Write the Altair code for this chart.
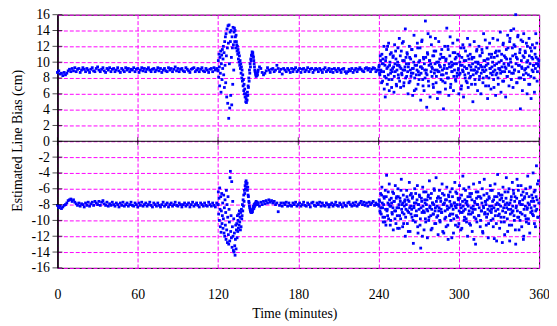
import altair as alt
import pandas as pd

# ---------------- data ----------------
# Upper series (~ +9 cm)
up_stable1_start, up_stable1_step = 0.0, 1.0
up_stable1 = [8.7, 8.9, 8.5, 8.6, 8.3, 8.7, 8.4, 8.6, 8.9, 9.1,
              8.8, 9.2, 8.9, 9.3, 8.8, 9.1, 9.2, 8.7, 9.0, 9.3,
              9.1, 8.8, 9.2, 9.0, 8.7, 9.1, 9.3, 8.9, 8.8, 9.2,
              9.4, 9.0, 8.8, 9.1, 9.3, 8.9, 8.7, 9.2, 9.0, 9.3,
              8.8, 9.1, 9.2, 8.8, 9.0, 9.3, 8.9, 8.7, 9.2, 9.0,
              8.8, 9.3, 9.0, 9.2, 8.8, 9.1, 9.0, 9.3, 8.8, 9.1,
              9.2, 8.7, 9.0, 9.3, 8.9, 9.2, 8.8, 9.1, 9.3, 9.0,
              8.8, 9.1, 9.2, 8.8, 9.0, 9.3, 8.9, 9.2, 8.7, 9.0,
              9.2, 8.9, 8.8, 9.3, 9.0, 9.2, 8.8, 9.1, 9.4, 8.9,
              9.2, 8.8, 9.1, 9.2, 8.9, 8.8, 9.3, 9.1, 8.9, 8.7,
              9.1, 9.2, 9.3, 8.8, 9.0, 9.2, 8.8, 9.1, 9.3, 8.9,
              8.8, 9.2, 9.0, 8.7, 9.1, 9.2, 8.8, 9.3, 9.0, 9.2,
              8.9]

up_trans_start, up_trans_step = 120.0, 0.25
up_trans = [9.0, 10.2, 8.1, 11.0, 9.4, 7.0, 10.6, 8.6,
            11.4, 6.2, 9.8, 10.9, 7.8, 11.6, 9.2, 10.4,
            12.0, 8.4, 11.2, 6.8, 12.6, 9.6, 13.2, 7.4,
            13.6, 10.8, 5.6, 14.2, 11.8, 4.8, 14.6, 12.4,
            2.9, 14.7, 9.8, 4.2, 13.8, 12.6, 5.8, 14.0,
            10.6, 4.6, 13.2, 11.8, 7.2, 14.4, 12.2, 9.0,
            13.8, 14.3, 12.6, 14.0, 13.2, 11.8, 13.4, 12.6,
            12.2, 11.4, 12.0, 11.0, 11.6, 10.4, 11.2, 10.0,
            10.8, 9.6, 10.2, 9.2, 9.8, 8.6, 9.4, 8.0,
            9.0, 7.6, 8.4, 7.0, 7.8, 6.4, 7.2, 6.0,
            6.6, 5.6, 6.0, 5.0, 5.4, 4.9, 5.8, 5.2,
            6.2, 5.8, 7.0, 6.8, 8.0, 7.6, 9.0, 8.6,
            9.8, 9.4, 10.4, 10.2, 10.9, 10.8, 11.3, 11.1,
            11.2, 10.8, 10.6, 10.2, 9.8, 9.4, 9.0, 8.8,
            8.6, 8.4, 8.2, 8.5, 8.3, 8.6, 8.4, 8.8]

up_stable2_start, up_stable2_step = 150.0, 1.0
up_stable2 = [9.0, 9.4, 9.2, 8.7, 8.4, 8.6, 8.9, 9.3, 9.0, 8.7,
              9.1, 9.2, 8.8, 9.0, 9.6, 9.2, 8.8, 9.1, 8.5, 9.2,
              9.0, 8.8, 9.2, 9.0, 8.7, 9.2, 8.8, 9.1, 9.3, 8.8,
              9.0, 9.2, 8.7, 9.1, 9.2, 8.8, 9.0, 9.3, 8.8, 9.1,
              9.2, 8.7, 9.0, 9.2, 9.1, 8.8, 9.2, 9.0, 8.7, 9.1,
              9.3, 8.8, 9.0, 9.2, 8.8, 9.1, 8.7, 9.2, 9.0, 8.8,
              9.2, 9.0, 8.7, 9.1, 9.2, 8.8, 8.6, 8.8, 9.1, 8.9,
              9.2, 8.7, 9.0, 9.2, 8.8, 9.1, 9.3, 9.1, 8.9, 8.8,
              9.2, 9.3, 9.0, 9.2, 8.8, 9.1, 9.3, 9.2, 8.8, 9.0]

up_noisy_start, up_noisy_step = 240.0, 0.5
up_noisy = [9.0, 9.6, 8.4, 10.2, 8.8, 11.0, 7.6, 9.8, 12.0, 8.2,
            5.6, 10.6, 11.6, 7.2, 9.4, 12.4, 6.4, 10.0, 8.6, 11.2,
            7.8, 9.2, 10.8, 6.2, 12.2, 8.8, 10.4, 7.0, 9.6, 11.8,
            8.0, 13.0, 9.4, 6.8, 11.4, 8.4, 10.2, 12.6, 7.4, 9.0,
            14.2, 10.6, 8.2, 11.0, 6.0, 9.8, 12.0, 7.6, 10.4, 8.6,
            11.6, 5.8, 9.2, 13.4, 8.0, 10.8, 6.6, 9.6, 12.4, 7.2,
            10.0, 8.4, 11.8, 5.2, 9.4, 12.8, 7.8, 10.6, 6.4, 9.0,
            15.2, 8.6, 4.3, 11.2, 13.6, 7.0, 10.2, 5.6, 9.8, 12.2,
            8.2, 10.8, 6.8, 11.4, 9.0, 13.0, 7.4, 10.0, 5.4, 8.8,
            12.6, 9.6, 6.2, 11.0, 8.4, 10.6, 7.6, 4.1, 9.2, 12.0,
            6.6, 10.4, 14.3, 8.0, 11.6, 5.8, 9.4, 13.2, 7.2, 10.0,
            8.8, 12.4, 6.4, 9.8, 11.2, 7.8, 10.6, 8.2, 12.8, 9.0,
            6.0, 10.8, 8.6, 11.8, 7.0, 9.6, 12.2, 5.6, 10.2, 8.4,
            11.4, 7.6, 9.2, 13.0, 6.8, 10.4, 8.0, 11.0, 9.4, 7.2,
            10.6, 5.0, 9.0, 12.6, 7.8, 10.0, 8.6, 11.6, 6.4, 9.8,
            12.0, 8.2, 10.8, 6.0, 9.4, 11.2, 7.4, 13.6, 8.8, 10.2,
            7.0, 9.6, 11.8, 5.4, 10.4, 8.0, 12.4, 9.2, 6.6, 11.0,
            8.4, 13.0, 7.8, 10.6, 9.0, 5.8, 11.4, 8.6, 12.8, 7.2,
            10.0, 9.2, 13.8, 6.2, 11.0, 8.8, 12.2, 7.6, 10.8, 9.4,
            5.6, 11.6, 8.2, 13.4, 9.8, 7.0, 12.6, 10.4, 14.0, 8.6,
            11.8, 6.8, 14.2, 9.0, 12.0, 16.0, 10.6, 7.4, 13.2, 9.6,
            8.0, 11.2, 4.1, 12.8, 9.4, 6.4, 10.8, 13.6, 7.8, 11.4,
            9.2, 12.4, 6.0, 10.2, 8.4, 13.0, 7.2, 11.8, 5.4, 10.6,
            12.2, 8.8, 9.6, 6.2, 11.0, 13.6, 9.8, 7.6, 10.4, 9.5]

up_noisy_b_start, up_noisy_b_step = 240.25, 0.5
up_noisy_b = [9.4, 8.6, 10.8, 9.0, 7.4, 9.8, 10.4, 8.8, 6.6, 9.6,
              10.2, 8.0, 9.2, 12.0, 8.4, 7.8, 9.6, 11.0, 9.0, 6.8,
              8.8, 10.6, 9.4, 8.2, 9.8, 11.4, 7.2, 9.0, 10.0, 8.4,
              9.6, 7.6, 10.8, 9.2, 8.6, 12.4, 9.0, 7.0, 10.2, 9.4,
              8.0, 9.8, 11.2, 8.8, 9.4, 7.4, 10.6, 9.0, 8.2, 11.6,
              9.2, 8.6, 10.0, 6.4, 9.6, 10.8, 8.4, 9.0, 11.8, 8.8,
              7.8, 10.2, 9.4, 8.6, 12.6, 9.2, 7.0, 10.4, 9.8, 8.0,
              10.6, 9.0, 8.4, 11.0, 7.6, 9.6, 10.2, 13.2, 8.8, 9.4,
              9.2, 7.2, 10.8, 8.6, 9.8, 11.4, 8.2, 9.0, 6.2, 10.0,
              8.8, 10.4, 9.4, 7.8, 11.6, 9.0, 8.4, 10.6, 9.6, 7.4,
              10.2, 8.6, 9.2, 12.0, 8.0, 9.8, 10.8, 6.8, 9.4, 8.8,
              9.6, 11.2, 8.2, 9.0, 10.4, 7.6, 9.8, 8.6, 11.0, 9.2,
              8.4, 10.0, 9.6, 6.6, 10.6, 9.0, 8.8, 11.8, 9.4, 8.0,
              10.2, 9.2, 7.4, 10.8, 8.6, 9.6, 12.2, 8.2, 9.0, 10.4,
              9.8, 8.4, 10.6, 9.0, 7.2, 9.4, 11.4, 8.8, 10.0, 9.2,
              7.8, 10.8, 9.6, 8.6, 11.6, 9.0, 8.0, 10.2, 9.4, 12.8,
              9.0, 8.2, 10.4, 9.8, 7.0, 11.0, 9.2, 8.6, 10.6, 9.4,
              10.0, 8.8, 6.8, 9.6, 11.2, 8.4, 9.8, 10.8, 8.0, 9.2,
              11.4, 9.0, 8.6, 10.2, 9.4, 7.6, 12.4, 9.8, 8.8, 10.6,
              9.2, 10.4, 8.2, 11.8, 9.6, 8.8, 13.0, 10.0, 7.8, 9.4,
              10.8, 8.6, 12.2, 9.0, 11.0, 9.8, 7.4, 10.4, 13.4, 8.8,
              9.6, 11.6, 8.0, 10.2, 9.2, 12.6, 8.4, 10.6, 9.0, 11.2,
              8.6, 10.0, 12.0, 9.4, 7.2, 10.8, 9.8, 8.2, 11.4, 9.0,
              10.4, 9.6, 8.0, 11.8, 9.2, 10.6, 12.4, 8.8, 9.8, 10.2]

# Lower series (~ -8 cm)
lo_stable1_start, lo_stable1_step = 0.0, 1.0
lo_stable1 = [-8.1, -8.4, -8.2, -8.5, -8.3, -8.1, -8.0, -7.8, -7.5, -7.4,
              -7.3, -7.6, -7.4, -7.7, -7.9, -8.1, -7.8, -8.2, -7.9, -8.0,
              -8.3, -7.8, -8.1, -7.7, -8.2, -7.9, -7.7, -8.1, -7.6, -7.8,
              -8.0, -7.6, -8.1, -7.7, -7.5, -7.9, -8.1, -7.7, -8.2, -7.9,
              -8.1, -7.7, -8.0, -8.2, -7.8, -8.0, -8.3, -7.8, -8.1, -7.7,
              -8.2, -8.0, -7.8, -8.2, -8.0, -7.7, -8.1, -8.2, -7.8, -8.0,
              -8.3, -7.8, -8.1, -7.7, -8.2, -8.0, -7.8, -8.2, -8.0, -7.7,
              -8.1, -8.3, -7.8, -8.0, -8.2, -7.8, -8.1, -8.3, -8.0, -7.7,
              -8.2, -8.0, -7.8, -8.3, -8.0, -7.8, -8.2, -8.0, -7.7, -8.1,
              -8.2, -7.8, -8.0, -8.3, -8.0, -7.8, -8.2, -8.0, -7.8, -8.3,
              -8.0, -7.7, -8.2, -8.0, -7.8, -8.1, -8.3, -7.8, -8.0, -8.2,
              -7.8, -8.1, -8.2, -7.7, -8.0, -8.2, -7.8, -8.1, -8.3, -7.8,
              -8.0]

lo_trans_start, lo_trans_step = 120.0, 0.25
lo_trans = [-8.0, -6.4, -9.2, -7.2, -10.0, -5.9, -8.6, -10.8,
            -7.0, -11.5, -8.8, -6.6, -10.4, -9.4, -7.8, -11.0,
            -9.8, -6.8, -11.6, -8.4, -12.0, -7.4, -10.6, -9.0,
            -12.4, -6.2, -11.2, -8.0, -12.8, -9.6, -7.0, -11.8,
            -13.0, -8.6, -10.2, -12.6, -4.6, -3.8, -11.4, -9.4,
            -12.2, -5.1, -13.4, -10.8, -7.6, -12.0, -13.8, -9.8,
            -14.0, -11.6, -13.2, -14.4, -12.4, -10.6, -13.6, -11.2,
            -10.4, -12.2, -9.4, -11.4, -10.0, -11.0, -9.2, -10.6,
            -8.8, -10.2, -9.6, -11.2, -9.0, -10.8, -8.6, -9.8,
            -9.4, -8.0, -8.8, -7.4, -8.2, -6.8, -7.6, -6.2,
            -6.6, -5.6, -6.0, -5.2, -5.0, -5.4, -5.8, -5.3,
            -6.2, -5.8, -6.8, -7.0, -7.6, -7.8, -8.2, -8.4,
            -8.6, -8.8, -8.9, -9.0, -8.8, -9.0, -8.7, -8.9,
            -8.6, -8.4, -8.2, -8.5, -8.0, -8.3, -7.9, -8.1,
            -7.8, -8.0, -7.6, -7.8, -7.9, -7.7, -8.0, -7.8]

lo_stable2_start, lo_stable2_step = 150.0, 1.0
lo_stable2 = [-7.9, -8.2, -7.7, -8.0, -7.6, -7.9, -7.5, -7.8, -7.4, -7.7,
              -7.5, -7.8, -7.6, -8.0, -7.8, -8.9, -8.1, -7.8, -8.2, -7.8,
              -8.0, -7.7, -8.2, -7.8, -8.1, -8.2, -7.8, -8.0, -7.7, -8.2,
              -8.0, -7.8, -8.2, -8.0, -7.7, -8.1, -8.2, -7.8, -8.0, -8.3,
              -7.8, -7.7, -8.1, -8.2, -7.8, -8.0, -7.7, -8.2, -7.8, -8.1,
              -8.2, -7.8, -8.0, -8.3, -8.0, -7.8, -8.2, -8.0, -7.7, -8.1,
              -8.2, -7.8, -8.0, -8.3, -7.8, -8.1, -8.2, -7.8, -7.7, -8.0,
              -8.2, -7.8, -8.1, -7.7, -8.2, -8.0, -7.8, -7.6, -8.0, -7.7,
              -8.1, -7.8, -8.2, -7.7, -8.0, -7.8, -7.6, -8.1, -7.8, -8.0]

lo_noisy_start, lo_noisy_step = 240.0, 0.5
lo_noisy = [-8.0, -7.4, -8.8, -6.6, -9.2, -5.8, -8.4, -10.2, -7.0, -9.6,
            -6.2, -10.6, -4.3, -8.6, -7.8, -9.8, -5.4, -8.2, -10.0, -7.2,
            -9.0, -6.4, -11.2, -7.6, -8.8, -5.6, -10.4, -7.0, -9.4, -6.0,
            -8.4, -11.0, -7.2, -9.8, -4.8, -8.0, -10.8, -6.8, -9.2, -7.6,
            -12.0, -8.6, -6.2, -10.4, -7.4, -9.0, -5.2, -11.4, -8.2, -6.6,
            -9.6, -7.0, -12.9, -8.4, -6.0, -10.2, -7.8, -9.4, -5.6, -11.6,
            -8.0, -6.8, -10.6, -13.5, -7.2, -9.0, -5.8, -8.8, -11.2, -7.4,
            -9.8, -6.4, -8.6, -12.2, -7.0, -10.0, -5.0, -8.2, -9.4, -6.6,
            -11.0, -7.8, -9.2, -6.0, -10.4, -8.4, -4.6, -9.6, -7.2, -11.8,
            -8.8, -6.2, -10.2, -7.6, -9.0, -5.4, -11.4, -8.0, -6.8, -9.8,
            -7.4, -10.8, -5.8, -8.6, -12.4, -7.0, -9.4, -6.4, -10.0, -8.2,
            -6.0, -9.2, -11.6, -7.8, -5.2, -10.6, -8.4, -6.6, -9.6, -7.2,
            -10.4, -5.6, -8.0, -11.2, -6.8, -9.0, -4.4, -8.8, -10.0, -7.4,
            -6.2, -9.8, -7.6, -12.0, -8.2, -5.8, -10.4, -7.0, -9.2, -6.6,
            -11.4, -8.6, -5.4, -9.6, -7.8, -13.0, -6.4, -10.2, -8.0, -7.0,
            -9.4, -5.2, -10.8, -7.2, -8.8, -6.0, -11.6, -8.4, -4.8, -9.0,
            -7.6, -10.6, -6.6, -9.2, -12.2, -7.0, -8.2, -5.6, -10.0, -8.6,
            -6.2, -9.8, -7.4, -12.3, -5.4, -8.8, -10.4, -7.0, -4.2, -9.4,
            -8.0, -11.0, -6.8, -9.6, -7.2, -12.8, -5.8, -8.4, -10.2, -6.4,
            -9.0, -4.6, -7.8, -11.4, -8.6, -6.0, -12.6, -9.2, -7.4, -10.6,
            -5.2, -8.8, -6.6, -10.0, -7.0, -13.0, -8.2, -4.8, -9.6, -6.2,
            -11.2, -7.6, -9.0, -5.6, -10.8, -8.0, -6.4, -12.0, -7.2, -9.4,
            -6.0, -10.2, -8.6, -4.4, -9.8, -7.0, -11.6, -5.8, -8.4, -6.8,
            -9.2, -4.0, -7.6, -10.4, -6.2, -8.8, -3.1, -7.4, -9.6, -5.0]

lo_noisy_b_start, lo_noisy_b_step = 240.25, 0.5
lo_noisy_b = [-8.2, -7.6, -9.0, -8.4, -6.8, -7.8, -9.6, -8.0, -7.2, -10.2,
              -8.6, -7.0, -8.8, -9.4, -6.4, -8.0, -7.4, -10.6, -8.2, -7.8,
              -9.2, -8.4, -6.6, -7.6, -9.8, -8.8, -7.2, -8.4, -11.0, -7.0,
              -8.0, -9.4, -7.6, -6.2, -8.6, -9.0, -7.8, -10.4, -8.2, -7.4,
              -9.6, -8.0, -7.0, -8.8, -11.4, -7.6, -8.4, -6.8, -9.2, -8.6,
              -7.2, -10.0, -8.2, -7.8, -9.4, -6.6, -8.8, -7.4, -10.8, -8.0,
              -8.6, -7.0, -9.8, -8.4, -7.6, -12.0, -8.2, -6.4, -9.0, -7.8,
              -10.2, -8.0, -7.4, -8.8, -6.8, -9.6, -8.4, -7.2, -11.2, -8.6,
              -7.8, -9.2, -8.0, -6.2, -8.8, -10.4, -7.6, -8.2, -9.4, -7.0,
              -8.4, -10.0, -7.2, -8.6, -9.0, -6.6, -8.0, -11.6, -7.8, -8.8,
              -9.6, -7.4, -8.2, -10.6, -6.8, -8.4, -7.6, -9.2, -8.0, -12.2,
              -7.0, -8.6, -9.8, -7.8, -8.2, -6.4, -9.4, -8.0, -10.8, -7.4,
              -8.8, -7.2, -9.0, -8.4, -11.0, -7.6, -8.2, -6.0, -9.6, -8.6,
              -7.8, -10.2, -8.0, -7.0, -9.2, -8.8, -6.6, -10.6, -8.4, -7.4,
              -9.0, -8.2, -12.4, -7.6, -8.6, -9.8, -7.2, -8.0, -6.4, -9.4,
              -8.4, -7.0, -10.0, -8.8, -7.8, -11.4, -8.2, -6.8, -9.2, -7.6,
              -8.0, -9.6, -7.4, -8.6, -10.4, -7.2, -8.8, -6.2, -9.0, -8.2,
              -7.6, -10.8, -8.4, -7.0, -9.4, -8.0, -12.6, -7.8, -8.6, -6.6,
              -9.2, -7.4, -8.2, -10.2, -6.8, -8.8, -7.6, -9.6, -11.8, -8.0,
              -7.2, -8.4, -9.8, -6.4, -8.0, -10.6, -7.8, -8.6, -7.0, -9.0,
              -8.2, -6.2, -9.4, -7.6, -11.2, -8.4, -7.2, -8.8, -5.6, -9.6,
              -7.8, -10.0, -8.0, -6.8, -9.2, -7.4, -12.4, -8.6, -7.0, -8.2,
              -9.8, -6.6, -8.4, -7.8, -10.4, -8.0, -5.8, -9.0, -7.6, -8.8,
              -7.2, -9.4, -6.4, -8.2, -10.8, -7.0, -8.6, -5.4, -9.6, -7.8]

x_ticks = [0, 60, 120, 180, 240, 300, 360]
y_ticks = list(range(-16, 17, 2))
zero_marks = [0, 60, 120, 180, 240, 300, 360]

# ---------------- build table ----------------
segments = [
    (up_stable1_start, up_stable1_step, up_stable1),
    (up_trans_start, up_trans_step, up_trans),
    (up_stable2_start, up_stable2_step, up_stable2),
    (up_noisy_start, up_noisy_step, up_noisy),
    (up_noisy_b_start, up_noisy_b_step, up_noisy_b),
    (lo_stable1_start, lo_stable1_step, lo_stable1),
    (lo_trans_start, lo_trans_step, lo_trans),
    (lo_stable2_start, lo_stable2_step, lo_stable2),
    (lo_noisy_start, lo_noisy_step, lo_noisy),
    (lo_noisy_b_start, lo_noisy_b_step, lo_noisy_b),
]
rows = []
for start, step, vals in segments:
    for i, v in enumerate(vals):
        t = start + i * step
        if t <= 360:
            rows.append({"t": t, "v": v})
df = pd.DataFrame(rows)

FONT = "Liberation Serif"
BLUE = "#0000FF"
MAG = "#FF00FF"
PLOT_W, PLOT_H = 487, 256

xscale = alt.Scale(domain=[0, 360], nice=False, zero=False)
yscale = alt.Scale(domain=[-16, 16], nice=False)

x_axis = alt.Axis(values=x_ticks, title="Time (minutes)", ticks=False,
                  domain=False, labelPadding=20, labelOverlap=False,
                  labelFlush=False,
                  titleX=239.5, titleY=50, titleBaseline="alphabetic",
                  titleAlign="center",
                  grid=True, gridColor=MAG, gridDash=[4, 2],
                  gridWidth=1, gridOpacity=1)
y_axis = alt.Axis(values=y_ticks, title="Estimated Line Bias (cm)",
                  ticks=False, domain=True, domainColor="black",
                  domainWidth=1.5, labelPadding=8, labelOverlap=False,
                  labelExpr="'' + datum.value",
                  titleX=-36.5, titleY=127, titleAngle=270,
                  titleBaseline="alphabetic", titleAlign="center",
                  grid=True, gridColor=MAG, gridDash=[4, 2],
                  gridWidth=1, gridOpacity=1)

X = lambda: alt.X("t:Q", scale=xscale, axis=x_axis, title="Time (minutes)")
Y = lambda: alt.Y("v:Q", scale=yscale, axis=y_axis, title="Estimated Line Bias (cm)")

points = alt.Chart(df).mark_square(size=8, color=BLUE, opacity=1).encode(x=X(), y=Y())

zero_line = alt.Chart(pd.DataFrame({"v": [0]})).mark_rule(
    color="black", strokeWidth=1).encode(y=Y())

zero_ticks = alt.Chart(pd.DataFrame({"t": zero_marks, "v": [0] * len(zero_marks)})).mark_tick(
    orient="vertical", size=8, thickness=1, color="black").encode(x=X(), y=Y())

y_axis_ticks = alt.Chart(pd.DataFrame({"t": [0] * len(y_ticks), "v": y_ticks})).mark_tick(
    orient="horizontal", size=10, thickness=1, color="black").encode(x=X(), y=Y())

chart = alt.layer(points, zero_line, zero_ticks, y_axis_ticks).properties(
    width=PLOT_W, height=PLOT_H,
    padding={"left": 50, "top": 5, "right": 10, "bottom": 56},
    autosize="none",
).configure_view(stroke="black", strokeWidth=1).configure_axis(
    labelFont=FONT, labelFontSize=14, labelColor="black",
    titleFont=FONT, titleFontSize=14, titleFontWeight="normal", titleColor="black",
)

chart.save("out.html", embed_options={"renderer": "svg", "actions": False})
